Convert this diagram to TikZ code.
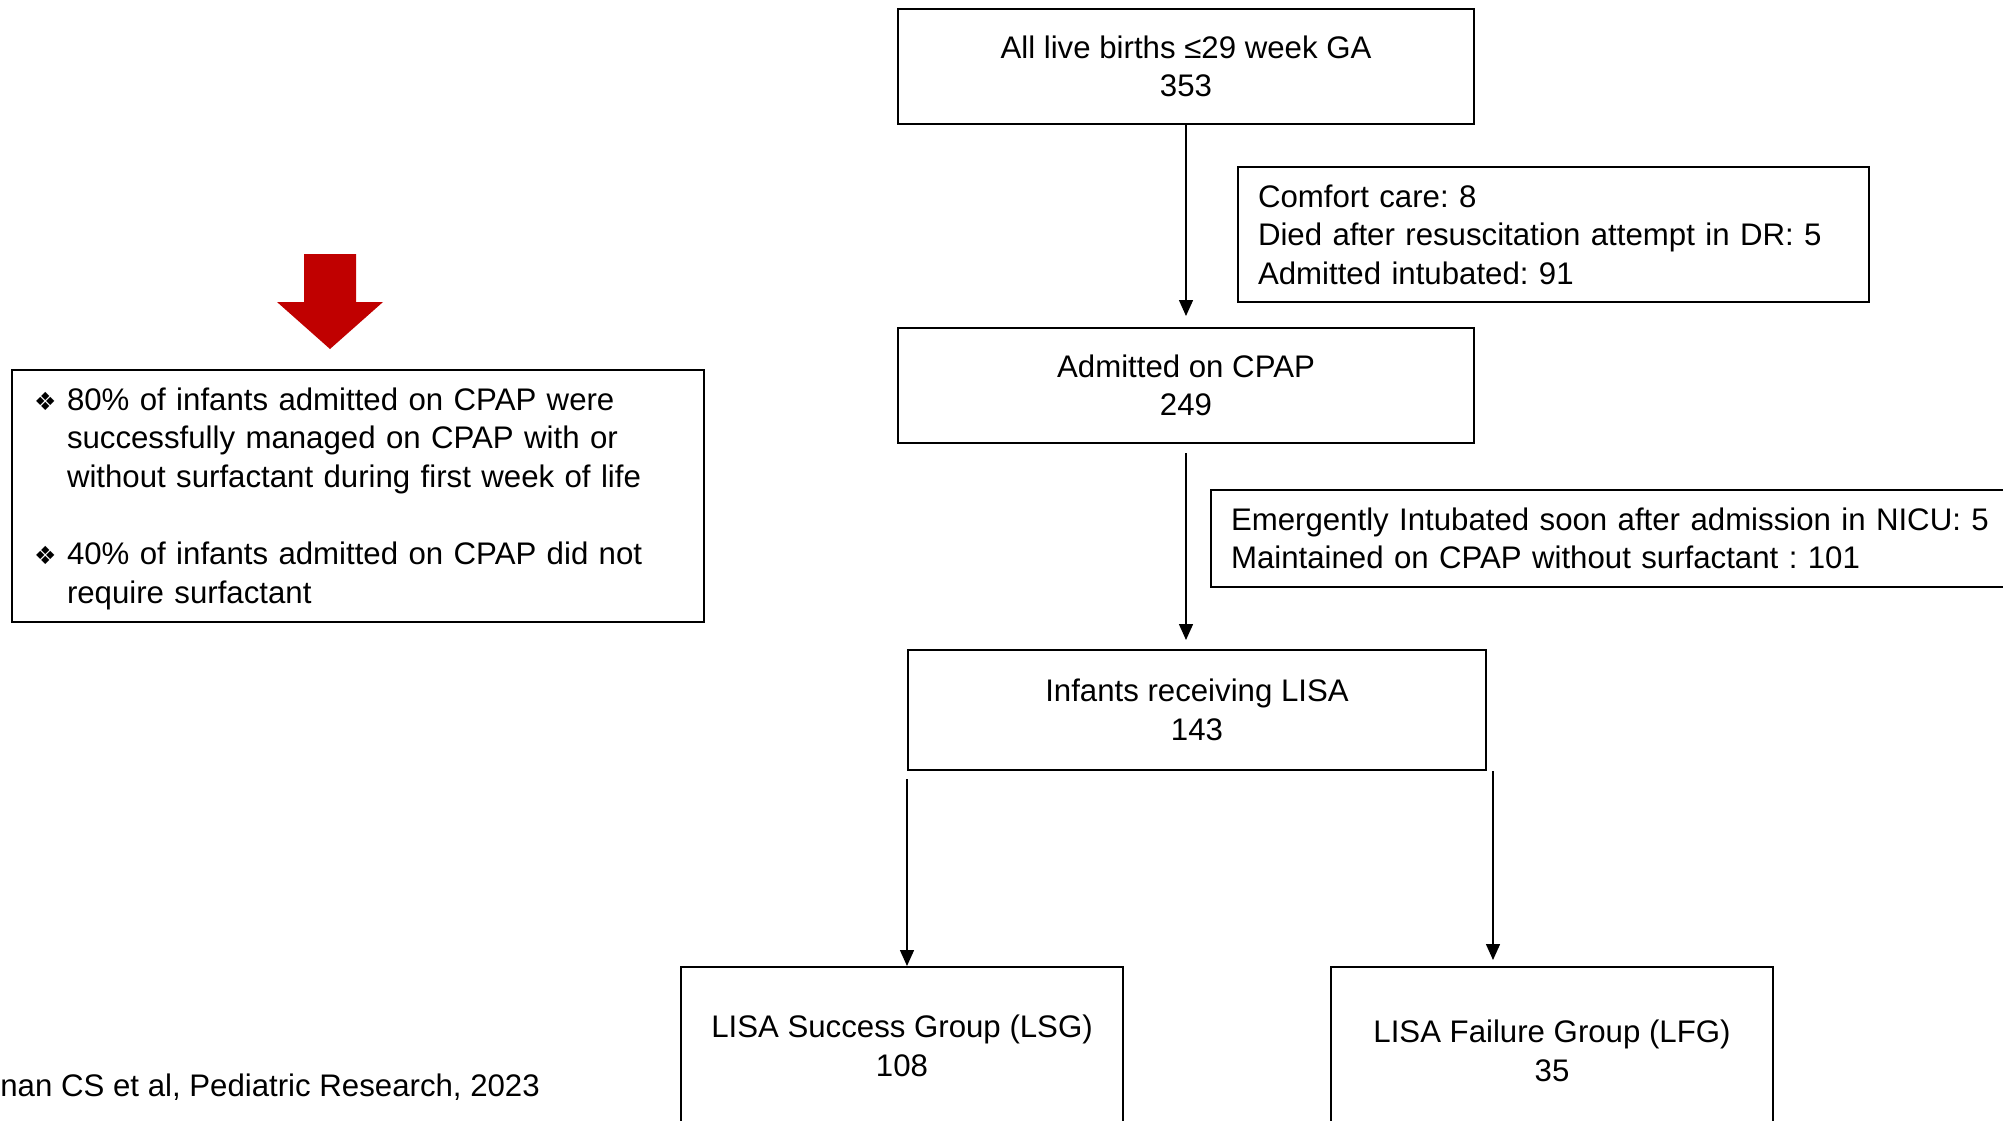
\documentclass[tikz,border=0pt]{standalone}
\usepackage{fontspec}
\setmainfont{Liberation Sans}
\newfontfamily\symfont{DejaVu Sans}
\definecolor{flowRed}{RGB}{192, 0, 0}
\usepackage{tikz}
\usetikzlibrary{positioning, calc, arrows.meta}
\frenchspacing

\newcommand{\diabullet}{\makebox[16.5pt][l]{\symfont\fontsize{12.5}{12.5}\selectfont ❖}}

\begin{document}
\begin{tikzpicture}[
    x=0.5pt, y=-0.5pt,
    font=\fontsize{15.6}{19.3}\selectfont,
    box/.style={rectangle, draw=black, line width=1pt, minimum width=288pt,
                minimum height=57.5pt, align=center},
    exclbox/.style={rectangle, draw=black, line width=1pt, align=left,
                inner xsep=10pt, anchor=north west},
    arrow/.style={-{Triangle[length=8pt, width=7pt]}, line width=0.75pt},
  ]
    \useasboundingbox (0,0) rectangle (2003,1120);

    % main flow
    \node[box] (births) at (1186,66.5) {All live births ≤29 week GA\\353};
    \node[box, below=101pt of births] (cpap) {Admitted on CPAP\\249};
    \node[box, minimum width=289pt, minimum height=60pt,
          below=102.5pt of cpap, xshift=5.5pt] (lisa) {Infants receiving LISA\\143};
    \node[box, minimum width=221pt, minimum height=79pt,
          below=97.5pt of lisa, xshift=-147.5pt] (lsg) {LISA Success Group (LSG)\\108};
    \node[box, minimum width=221pt, minimum height=84pt,
          below=97.5pt of lisa, xshift=177.5pt] (lfg) {LISA Failure Group (LFG)\\35};

    % exclusions
    \node[exclbox, text width=295.5pt, minimum height=67.5pt] (excl1) at (1237,166)
         {Comfort care: 8\\Died after resuscitation attempt in DR: 5\\Admitted intubated: 91};
    \node[exclbox, text width=400pt, minimum height=48.5pt] (excl2) at (1210,489)
         {Emergently Intubated soon after admission in NICU: 5\\Maintained on CPAP without surfactant : 101};

    \draw[arrow, shorten >=5.5pt] (births.south) -- (cpap.north);
    \draw[arrow, shorten <=4.5pt, shorten >=4.5pt] (cpap.south) -- (cpap.south |- lisa.north);
    \draw[arrow, shorten <=4pt] (lisa.south west) -- (lisa.south west |- lsg.north);
    \draw[arrow, shorten >=3pt] ([xshift=3pt]lisa.south east)
         -- ([xshift=3pt]lisa.south east |- lfg.north);

    % summary
    \fill[flowRed] (304,254) -- (356,254) -- (356,302) -- (383,302) -- (330,349)
         -- (277,302) -- (304,302) -- cycle;
    \node[rectangle, draw=black, line width=1pt, anchor=north west, align=left,
          text width=324pt, inner xsep=11pt, minimum height=126pt] (summary) at (11,369)
         {\rule{0pt}{14pt}\diabullet 80\% of infants admitted on CPAP were\\
          \hspace*{16.5pt}successfully managed on CPAP with or\\
          \hspace*{16.5pt}without surfactant during first week of life\\[19.3pt]
          \diabullet 40\% of infants admitted on CPAP did not\\
          \hspace*{16.5pt}require surfactant};

    \node[anchor=west, inner sep=0pt] (cite) at (0,1087)
         {nan CS et al, Pediatric Research, 2023};
  \end{tikzpicture}
\end{document}
